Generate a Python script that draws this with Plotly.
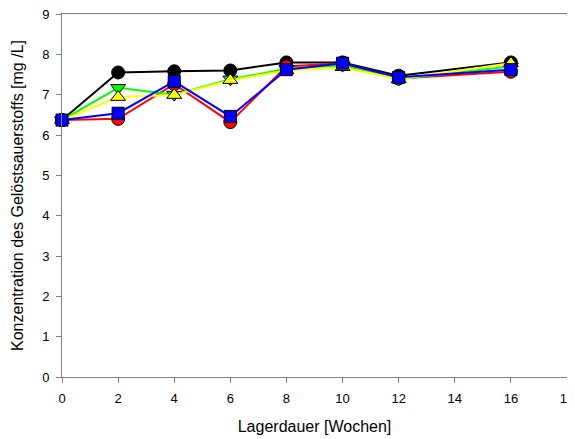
import plotly.graph_objects as go

weeks = [0, 2, 4, 6, 8, 10, 12, 16]
black = [6.37, 7.55, 7.58, 7.60, 7.80, 7.80, 7.47, 7.80]
red = [6.37, 6.40, 7.26, 6.32, 7.70, 7.78, 7.40, 7.57]
green = [6.37, 7.17, 7.00, 7.38, 7.64, 7.72, 7.38, 7.70]
yellow = [6.37, 6.94, 6.99, 7.36, 7.60, 7.68, 7.38, 7.78]
blue = [6.37, 6.54, 7.33, 6.46, 7.62, 7.78, 7.43, 7.62]
red_err = [0, 0.1, 0, 0, 0, 0, 0, 0]

x_ticks = [0, 2, 4, 6, 8, 10, 12, 14, 16, 18]
y_ticks = [0, 1, 2, 3, 4, 5, 6, 7, 8, 9]

series = [
    (black, "black", "circle", 13, None),
    (red, "red", "circle", 13, red_err),
    (green, "#00ff00", "triangle-down", 13, None),
    (yellow, "yellow", "triangle-up", 13, None),
    (blue, "blue", "square", 12, None),
]

fig = go.Figure()
for vals, col, sym, size, err in series:
    kw = {}
    if err is not None:
        kw["error_y"] = dict(type="data", array=[0]*len(err), arrayminus=err,
                             symmetric=False, color="black", thickness=1, width=5)
    fig.add_trace(go.Scatter(
        x=weeks, y=vals, mode="lines+markers",
        line=dict(color=col, width=2),
        marker=dict(symbol=sym, size=size, color=col,
                    line=dict(color="black", width=1)),
        showlegend=False, cliponaxis=False, **kw))

font_family = "Liberation Sans, Arial"
axis_common = dict(
    showline=True, linecolor="#808080", linewidth=1, mirror=True,
    ticks="outside", ticklen=5, tickcolor="#808080", showgrid=False,
    zeroline=False, automargin=False, ticklabeloverflow="allow",
    tickfont=dict(family=font_family, size=13, color="black"),
)
fig.update_xaxes(range=[0, 18], tickvals=x_ticks, ticktext=[str(t) for t in x_ticks],
                 ticklabelstandoff=4,
                 title=dict(text="Lagerdauer [Wochen]", font=dict(family=font_family, size=16, color="black"), standoff=16),
                 **axis_common)
fig.update_yaxes(range=[0, 9], tickvals=y_ticks, ticktext=[str(t) for t in y_ticks],
                 ticklabelstandoff=4,
                 title=dict(text="Konzentration des Gelöstsauerstoffs [mg /L]", font=dict(family=font_family, size=16, color="black"), standoff=14),
                 **axis_common)
fig.update_layout(
    width=567, height=431,
    margin=dict(l=54, r=8, t=6, b=62, autoexpand=False),
    plot_bgcolor="white", paper_bgcolor="white",
)
fig.write_html("out.html")
